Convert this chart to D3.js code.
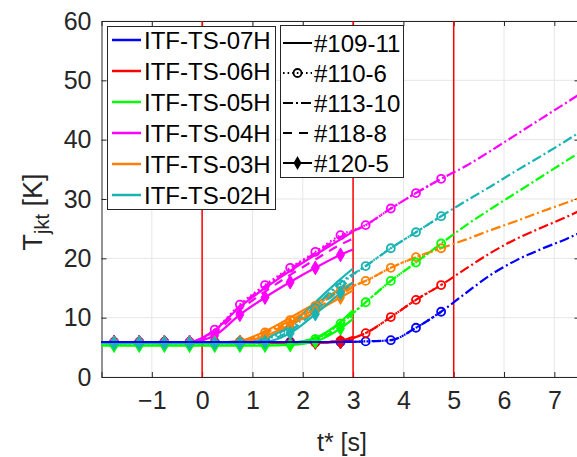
<!DOCTYPE html>
<html><head><meta charset="utf-8">
<script src="https://cdn.jsdelivr.net/npm/d3@7"></script>
<style>
html,body{margin:0;padding:0;background:#fff;}
svg{display:block;font-family:"Liberation Sans",Arial,Helvetica,sans-serif;}
</style></head>
<body><svg id="chart" width="577" height="457"></svg>
<script>
// ---------------- data ----------------
const sensors = ["ITF-TS-07H","ITF-TS-06H","ITF-TS-05H","ITF-TS-04H","ITF-TS-03H","ITF-TS-02H"];
const sensorColors = ["#0000ff","#ff0000","#00ff00","#ff00ff","#ff8000","#1ab3b3"];
const runs = ["#109-11","#110-6","#113-10","#118-8","#120-5"];
const xTicks = [-1,0,1,2,3,4,5,6,7];
const yTicks = [0,10,20,30,40,50,60];
const eventTimes = [0,3,5];

// time grids [s]
const tShort = [-2,-1.75,-1.25,-0.75,-0.25,0.25,0.75,1.25,1.75,2.25,2.75,3];
const t110 = [-2,-1.75,-1.25,-0.75,-0.25,0.25,0.75,1.25,1.75,2.25,2.75,3.25,3.75,4.25,4.75];
const t113 = [-2,-1.75,-1.25,-0.75,-0.25,0.25,0.75,1.25,1.75,2.25,2.75,3.25,3.75,4.25,4.75,5.25,5.75,6.25,6.75,7.25,7.6];

// rows: 07H, 06H, 05H, 04H, 03H, 02H
const run109 = [
  [5.9,5.9,5.9,5.9,5.9,5.9,5.9,5.9,5.9,5.9,5.9,5.95],
  [5.8,5.8,5.8,5.8,5.8,5.8,5.8,5.8,5.8,5.8,6.1,6.8],
  [5.7,5.7,5.7,5.7,5.7,5.7,5.7,5.7,5.8,6.6,9.3,11.3],
  [5.8,5.8,5.8,5.8,5.9,7.9,11.8,15.0,17.9,20.6,23.2,24.5],
  [5.8,5.8,5.8,5.8,5.8,5.8,6.1,7.7,10.0,12.4,14.8,15.9],
  [5.8,5.8,5.8,5.8,5.8,5.8,5.8,6.5,8.8,12.6,16.5,18.3]
];
const run110 = [
  [5.9,5.9,5.9,5.9,5.9,5.9,5.9,5.9,5.9,5.9,5.9,6.0,6.2,8.3,11.0],
  [5.8,5.8,5.8,5.8,5.8,5.8,5.8,5.8,5.8,5.8,6.1,7.4,10.1,13.0,15.5],
  [5.6,5.6,5.6,5.6,5.6,5.6,5.6,5.6,5.7,6.4,9.0,12.6,16.2,19.3,22.5],
  [5.8,5.8,5.8,5.8,5.9,8.0,12.2,15.5,18.4,21.1,23.9,25.6,28.4,31.0,33.4],
  [5.8,5.8,5.8,5.8,5.8,5.8,6.0,7.5,9.6,12.0,14.5,16.2,18.4,20.2,21.7],
  [5.7,5.7,5.7,5.7,5.7,5.7,5.8,6.3,8.2,11.6,15.6,18.7,21.7,24.4,27.1]
];
const run113 = [
  [5.9,5.9,5.9,5.9,5.9,5.9,5.9,5.9,5.9,5.9,5.9,6.0,6.2,8.3,11.0,14.2,17.3,19.7,21.6,23.3,24.7],
  [5.8,5.8,5.8,5.8,5.8,5.8,5.8,5.8,5.8,5.8,6.1,7.4,10.1,13.0,15.5,18.3,21.0,23.3,25.2,27.0,28.4],
  [5.7,5.7,5.7,5.7,5.7,5.7,5.7,5.7,5.8,6.5,9.1,12.6,16.2,19.3,22.5,25.6,28.4,31.1,33.8,36.5,38.4],
  [5.8,5.8,5.8,5.8,5.9,7.8,12.0,15.3,18.2,20.9,23.6,25.6,28.4,31.0,33.4,35.6,38.2,40.9,43.6,46.3,48.2],
  [5.8,5.8,5.8,5.8,5.8,5.8,6.0,7.4,9.5,11.9,14.4,16.2,18.4,20.2,21.7,23.2,24.8,26.3,27.9,29.4,30.5],
  [5.8,5.8,5.8,5.8,5.8,5.8,5.8,6.4,8.5,12.0,15.9,18.7,21.7,24.4,27.1,29.7,32.2,34.8,37.3,39.9,41.8]
];
const run118 = [
  [5.9,5.9,5.9,5.9,5.9,5.9,5.9,5.9,5.9,5.9,5.9,5.95],
  [5.8,5.8,5.8,5.8,5.8,5.8,5.8,5.8,5.8,5.8,6.0,6.6],
  [5.7,5.7,5.7,5.7,5.7,5.7,5.7,5.7,5.7,6.2,8.6,10.4],
  [5.8,5.8,5.8,5.8,5.9,7.5,11.3,14.4,17.2,19.8,22.3,23.3],
  [5.8,5.8,5.8,5.8,5.8,5.8,6.0,7.2,9.2,11.5,13.9,15.1],
  [5.8,5.8,5.8,5.8,5.8,5.8,5.8,6.1,7.8,11.2,15.0,16.9]
];
const run120 = [
  [5.9,5.9,5.9,5.9,5.9,5.9,5.9,5.9,5.9,5.9,5.9,5.95],
  [5.8,5.8,5.8,5.8,5.8,5.8,5.8,5.8,5.8,5.8,5.9,6.4],
  [5.3,5.3,5.3,5.3,5.3,5.3,5.3,5.3,5.4,6.0,8.2,9.8],
  [5.8,5.8,5.8,5.8,5.9,7.0,10.5,13.4,16.0,18.4,20.6,21.5],
  [5.8,5.8,5.8,5.8,5.8,5.8,5.9,6.9,8.8,11.0,13.4,14.6],
  [5.7,5.7,5.7,5.7,5.7,5.7,5.7,5.9,7.4,10.6,14.2,16.0]
];

// ---------------- styles ----------------
const runStyle = {
  "#109-11": {dash:null,      marker:null,      t:tShort, v:run109},
  "#110-6":  {dash:"1.6,3",   marker:"circle",  t:t110,   v:run110},
  "#113-10": {dash:"10,3,2,3",marker:null,      t:t113,   v:run113},
  "#118-8":  {dash:"9,7",     marker:null,      t:tShort, v:run118},
  "#120-5":  {dash:null,      marker:"diamond", t:tShort, v:run120}
};

const svg = d3.select("#chart");
const x = d3.scaleLinear().domain([-2, 7.5]).range([101.5, 579.5]);
const y = d3.scaleLinear().domain([0, 60]).range([377, 21]);
const axisCol = "#262626";
const FONT = "\"Liberation Sans\",Arial,Helvetica,sans-serif";

// grid
const grid = svg.append("g");
grid.selectAll("line.gx").data(xTicks).join("line")
  .attr("x1", d=>x(d)).attr("x2", d=>x(d)).attr("y1", y(0)).attr("y2", y(60))
  .attr("stroke", "#e6e6e6").attr("stroke-width", 1);
grid.selectAll("line.gy").data(yTicks).join("line")
  .attr("x1", x(-2)).attr("x2", x(7.5)).attr("y1", d=>y(d)).attr("y2", d=>y(d))
  .attr("stroke", "#e6e6e6").attr("stroke-width", 1);

// axes
const xAxis = d3.axisBottom(x).tickValues(xTicks).tickSize(-5).tickPadding(14).tickFormat(d3.format("d"));
const yAxis = d3.axisLeft(y).tickValues(yTicks).tickSize(-5).tickPadding(10).tickFormat(d3.format("d"));
const gx = svg.append("g").attr("transform", `translate(0,${y(0)})`).call(xAxis);
const gy = svg.append("g").attr("transform", `translate(${x(-2)},0)`).call(yAxis);
const gxt = svg.append("g").attr("transform", `translate(0,${y(60)})`).call(d3.axisTop(x).tickValues(xTicks).tickSize(-5).tickFormat(""));
const gyr = svg.append("g").attr("transform", `translate(${x(7.5)},0)`).call(d3.axisRight(y).tickValues(yTicks).tickSize(-5).tickFormat(""));
[gx,gy,gxt,gyr].forEach(g=>{
  g.select(".domain").attr("stroke", axisCol).attr("stroke-width", 1);
  g.selectAll(".tick line").attr("stroke", axisCol);
  g.selectAll(".tick text").attr("fill", "#262626").style("font-family", FONT).style("font-size","25px");
});
gx.selectAll(".tick text").attr("dy","0.72em");

// event lines
svg.append("g").selectAll("line").data(eventTimes).join("line")
  .attr("x1", d=>x(d)).attr("x2", d=>x(d)).attr("y1", y(0)).attr("y2", y(60))
  .attr("stroke", "#ff0000").attr("stroke-width", 1.5);

// data
const line = d3.line().x(d=>x(d[0])).y(d=>y(d[1])).curve(d3.curveMonotoneX);
const diamond = d3.symbol().type(d3.symbolDiamond).size(55);
const lineLayer = svg.append("g");
const markerLayer = svg.append("g");
const topLayer = svg.append("g");
const lineOrder = [1,3,4,2,5];        // red, magenta, orange, green, teal
const markerOrder = [0,1,3,4,2,5];    // blue first ... teal last
function drawLine(layer, rn, si){
  const st = runStyle[rn];
  const pts = st.t.map((t,i)=>[t, st.v[si][i]]);
  layer.append("path").attr("d", line(pts)).attr("fill","none")
    .attr("stroke", sensorColors[si]).attr("stroke-width", 2.2)
    .attr("stroke-dasharray", st.dash);
}
runs.forEach(rn=> lineOrder.forEach(si=> drawLine(lineLayer, rn, si)));
runs.forEach(rn=> drawLine(topLayer, rn, 0)); // blue on top
runs.forEach(rn=>{
  const st = runStyle[rn];
  if(!st.marker) return;
  markerOrder.forEach(si=>{
    const pts = st.t.map((t,i)=>[t, st.v[si][i]])
      .filter(p=> Math.abs((p[0]+1.75)*2 - Math.round((p[0]+1.75)*2))<1e-6);
    if(st.marker==="circle"){
      markerLayer.append("g").selectAll("circle").data(pts).join("circle")
        .attr("cx", d=>x(d[0])).attr("cy", d=>y(d[1])).attr("r", 4)
        .attr("fill","none").attr("stroke", sensorColors[si]).attr("stroke-width", 1.8);
    } else {
      markerLayer.append("g").selectAll("path").data(pts).join("path")
        .attr("d", diamond).attr("transform", d=>`translate(${x(d[0])},${y(d[1])})`)
        .attr("fill", sensorColors[si]).attr("stroke", sensorColors[si]).attr("stroke-width", 1);
    }
  });
});

// legend 1 (sensors)
const lg1 = svg.append("g");
lg1.append("rect").attr("x",107.5).attr("y",26.5).attr("width",168).attr("height",183)
  .attr("fill","#fff").attr("stroke",axisCol).attr("stroke-width",1);
sensors.forEach((s,i)=>{
  const yy = 40 + i*31;
  lg1.append("line").attr("x1",112).attr("x2",141).attr("y1",yy).attr("y2",yy)
    .attr("stroke",sensorColors[i]).attr("stroke-width",2.5);
  lg1.append("text").attr("x",144).attr("y",yy).attr("dy","0.36em")
    .style("font-family",FONT).style("font-size","24px").attr("fill","#000").text(s);
});

// legend 2 (runs)
const lg2 = svg.append("g");
lg2.append("rect").attr("x",280.5).attr("y",25.5).attr("width",123).attr("height",152)
  .attr("fill","#fff").attr("stroke",axisCol).attr("stroke-width",1);
runs.forEach((r,i)=>{
  const yy = 43 + i*30;
  const st = runStyle[r];
  lg2.append("line").attr("x1",283).attr("x2",312).attr("y1",yy).attr("y2",yy)
    .attr("stroke","#000").attr("stroke-width",2).attr("stroke-dasharray", st.dash);
  if(st.marker==="circle"){
    lg2.append("circle").attr("cx",297.5).attr("cy",yy).attr("r",4)
      .attr("fill","none").attr("stroke","#000").attr("stroke-width",1.8);
  } else if(st.marker==="diamond"){
    lg2.append("path").attr("d",diamond).attr("transform",`translate(297.5,${yy})`).attr("fill","#000");
  }
  lg2.append("text").attr("x",314).attr("y",yy).attr("dy","0.36em")
    .style("font-family",FONT).style("font-size","24px").attr("fill","#000").text(r);
});

// axis titles
svg.append("text").attr("x", 342).attr("y", 451).attr("text-anchor","middle")
  .style("font-family",FONT).style("font-size","25px").attr("fill","#262626").text("t* [s]");
const yl = svg.append("text").attr("transform","translate(42,212) rotate(-90)").attr("text-anchor","middle")
  .style("font-family",FONT).style("font-size","27px").attr("fill","#262626");
yl.append("tspan").text("T");
yl.append("tspan").attr("dy","7").style("font-size","20px").text("jkt");
yl.append("tspan").attr("dy","-7").text(" [K]");
</script>
</body></html>
